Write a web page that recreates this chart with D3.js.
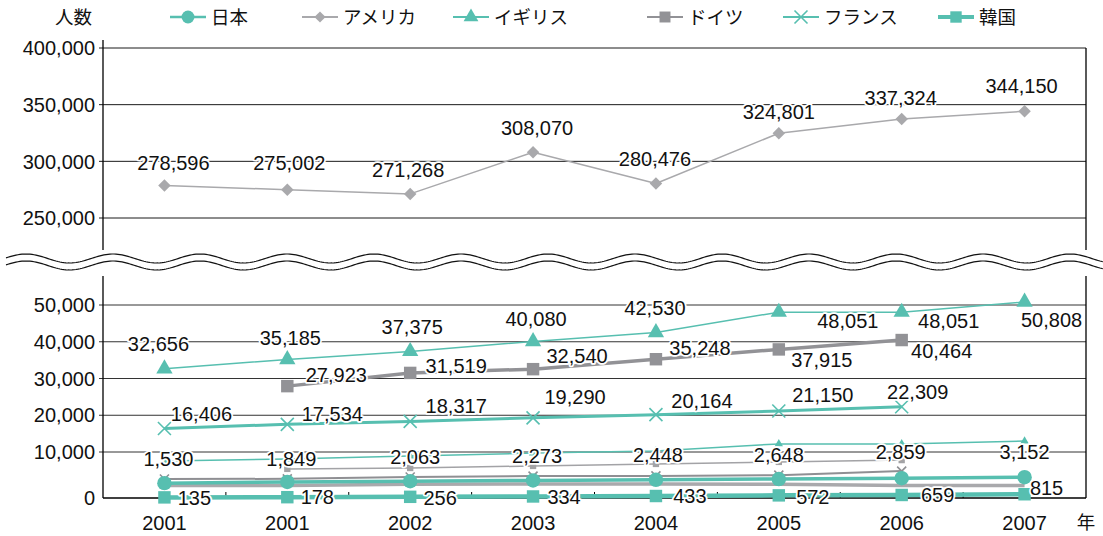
<!DOCTYPE html>
<html><head><meta charset="utf-8">
<script src="https://cdn.jsdelivr.net/npm/d3@7"></script>
<style>
html,body{margin:0;padding:0;background:#fff;}
svg{display:block;font-family:"Liberation Sans","Noto Sans CJK JP",Arial,sans-serif;}
</style></head><body>
<svg id="chart" width="1103" height="536"></svg>
<script>
// ---- data ----
const years = ["2001", "2001", "2002", "2003", "2004", "2005", "2006", "2007"];
const usa = [278596, 275002, 271268, 308070, 280476, 324801, 337324, 344150];
const uk = [32656, 35185, 37375, 40080, 42530, 48051, 48051, 50808];
const germany = [null, 27923, 31519, 32540, 35248, 37915, 40464, null];
const france = [16406, 17534, 18317, 19290, 20164, 21150, 22309, null];
const japan = [1530, 1849, 2063, 2273, 2448, 2648, 2859, 3152];
const korea = [135, 178, 256, 334, 433, 572, 659, 815];
// faint underlying traces in the lower panel
const traceTeal = [7550, 8100, 8900, 9700, 10300, 12200, 12200, 13000];
const traceGraySquare = [null, 5400, 5650, 6200, 6750, 7300, 7800, null];
const traceGrayCross = [2650, 2700, 3200, 3450, 3500, 3700, 4800, null];
const traceGrayThick = [900, 900, 1200, 1300, 1300, 1200, 900, 900];
const topTicks = [250000, 300000, 350000, 400000];
const lowTicks = [0, 10000, 20000, 30000, 40000, 50000];
const legendNames = ["日本", "アメリカ", "イギリス", "ドイツ", "フランス", "韓国"];

// ---- layout ----
const TEAL = "#57bfb0", GRAY_US = "#a9a9ac", GRAY_DE = "#929296";
const left = 103, right = 1086;
const FS = 20;
const svg = d3.select("#chart");
const fmt = d3.format(",");

const x = d3.scaleBand().domain(d3.range(years.length)).range([left, right]);
const cx = i => x(i) + x.bandwidth() / 2;

const yTop = d3.scaleLinear().domain([250000, 400000]).range([218, 48]);
// lower panel: the 0–10,000 band on the axis is drawn taller than the others
const yGrid = d3.scaleLinear().domain([0, 10000, 50000]).range([498, 452, 305]);
const yLow = d3.scaleLinear().domain([10000, 50000]).range([452, 305]);

const g = svg.append("g");

// gridlines
g.selectAll(".gt").data(topTicks).join("line")
  .attr("x1", left - 4).attr("x2", right).attr("y1", d => yTop(d)).attr("y2", d => yTop(d))
  .attr("stroke", "#1a1a1a").attr("stroke-width", 1);
g.selectAll(".gl").data(lowTicks.filter(d => d > 0)).join("line")
  .attr("x1", left - 4).attr("x2", right).attr("y1", d => yGrid(d)).attr("y2", d => yGrid(d))
  .attr("stroke", "#333").attr("stroke-width", 1);

// axes frame
g.append("line").attr("x1", left).attr("x2", left).attr("y1", 40).attr("y2", 250).attr("stroke", "#000").attr("stroke-width", 1.3);
g.append("line").attr("x1", right).attr("x2", right).attr("y1", 48).attr("y2", 250).attr("stroke", "#000").attr("stroke-width", 1.3);
g.append("line").attr("x1", left).attr("x2", left).attr("y1", 276).attr("y2", yGrid(0)).attr("stroke", "#000").attr("stroke-width", 1.3);
g.append("line").attr("x1", right).attr("x2", right).attr("y1", 276).attr("y2", yGrid(0)).attr("stroke", "#000").attr("stroke-width", 1.3);
g.append("line").attr("x1", left).attr("x2", right).attr("y1", yGrid(0)).attr("y2", yGrid(0)).attr("stroke", "#000").attr("stroke-width", 1.5);
// category ticks on the baseline
g.selectAll(".xt").data(d3.range(1, years.length)).join("line")
  .attr("x1", d => x(d)).attr("x2", d => x(d)).attr("y1", yGrid(0) - 6).attr("y2", yGrid(0))
  .attr("stroke", "#000").attr("stroke-width", 1);

// axis labels
const tickStyle = s => s.attr("font-size", FS).attr("fill", "#111");
g.selectAll(".tt").data(topTicks).join("text")
  .attr("x", 95).attr("y", d => yTop(d)).attr("dy", "0.36em").attr("text-anchor", "end")
  .text(fmt).call(tickStyle);
g.selectAll(".tl").data(lowTicks).join("text")
  .attr("x", 95).attr("y", d => yGrid(d)).attr("dy", "0.36em").attr("text-anchor", "end")
  .text(fmt).call(tickStyle);
g.selectAll(".xl").data(years).join("text")
  .attr("x", (d, i) => cx(i)).attr("y", 530).attr("text-anchor", "middle")
  .text(d => d).call(tickStyle);
g.append("text").attr("x", 1086).attr("y", 529).attr("text-anchor", "middle")
  .attr("font-size", 18.5).attr("fill", "#111").text("年");
g.append("text").attr("x", 55).attr("y", 24)
  .attr("font-size", 18.5).attr("fill", "#111").text("人数");

// ---- markers ----
function marker(sel, type, color, size) {
  if (type === "x") {
    const h = size / 2;
    sel.append("path").attr("d", `M${-h},${-h}L${h},${h}M${-h},${h}L${h},${-h}`)
      .attr("stroke", color).attr("stroke-width", 1.6).attr("fill", "none");
    return;
  }
  const sym = { circle: d3.symbolCircle, diamond: d3.symbolSquare, triangle: d3.symbolTriangle, square: d3.symbolSquare }[type];
  const p = sel.append("path").attr("d", d3.symbol(sym, size)()).attr("fill", color);
  if (type === "diamond") p.attr("transform", "rotate(45)");
}

function series(values, scale, opt) {
  const pts = values.map((v, i) => v == null ? null : [cx(i), scale(v)]);
  const line = d3.line().defined(d => d != null);
  g.append("path").attr("d", line(pts)).attr("fill", "none")
    .attr("stroke", opt.color).attr("stroke-width", opt.width).attr("stroke-linejoin", "round");
  if (opt.marker) {
    pts.forEach(p => {
      if (!p) return;
      const m = g.append("g").attr("transform", `translate(${p[0]},${p[1]})`);
      marker(m, opt.marker, opt.mcolor || opt.color, opt.msize);
    });
  }
  return pts;
}

// faint traces first
series(traceGrayThick, yLow, { color: GRAY_US, width: 3.5 });
series(traceGrayCross, yLow, { color: "#8f8f93", width: 2, marker: "x", msize: 9 });
series(traceGraySquare, yLow, { color: "#a3a3a6", width: 1.5, marker: "square", msize: 40 });
series(traceTeal, yLow, { color: TEAL, width: 1.5, marker: "triangle", msize: 30 });

// main series
const pUS = series(usa, yTop, { color: GRAY_US, width: 1.5, marker: "diamond", mcolor: GRAY_US, msize: 78 });
const pUK = series(uk, yLow, { color: TEAL, width: 1.5, marker: "triangle", msize: 115 });
const pDE = series(germany, yLow, { color: GRAY_DE, width: 3.5, marker: "square", msize: 155 });
const pFR = series(france, yLow, { color: TEAL, width: 3, marker: "x", msize: 13 });
const pJP = series(japan, yLow, { color: TEAL, width: 3.5, marker: "circle", msize: 165 });
const pKR = series(korea, yGrid, { color: TEAL, width: 4.5, marker: "square", msize: 155 });

// ---- value labels ----
const labelLayout = {
  usa: { dx: [9, 2, -2, 4, -1, 0, -1, -3], dy: [-23, -27, -24, -24, -25, -21, -21, -25] },
  uk: { dx: [-6, 3, 2, 3, -1, 69, 47, 27], dy: [-25, -22, -25, -23, -25, 9, 9, 18] },
  germany: { dx: [0, 49, 46, 44, 44, 43, 40, 0], dy: [0, -11, -7, -13, -11, 10, 11, 0] },
  france: { dx: [37, 45, 46, 42, 46, 44, 16, 0], dy: [-15, -11, -16, -21, -14, -16, -15, 0] },
  japan: { dx: [4, 4, 5, 4, 2, 0, -1, 0], dy: [-24, -23, -24, -25, -25, -24, -26, -25] },
  korea: { dx: [30, 30, 30, 31, 34, 34, 36, 22], dy: [0, 0, 1, 0, 0, 1, 0, -6] }
};
function labels(values, pts, lay) {
  values.forEach((v, i) => {
    if (v == null) return;
    g.append("text").attr("x", pts[i][0] + lay.dx[i]).attr("y", pts[i][1] + lay.dy[i])
      .attr("dy", "0.36em").attr("text-anchor", "middle").attr("font-size", FS)
      .attr("fill", "#111").attr("stroke", "#fff").attr("stroke-width", 3.5)
      .attr("paint-order", "stroke").attr("stroke-linejoin", "round")
      .text(fmt(v));
  });
}
labels(usa, pUS, labelLayout.usa);
labels(uk, pUK, labelLayout.uk);
labels(germany, pDE, labelLayout.germany);
labels(france, pFR, labelLayout.france);
labels(japan, pJP, labelLayout.japan);
labels(korea, pKR, labelLayout.korea);

// ---- axis break (double wave) ----
const wave = (c) => d3.range(6, 1112, 2).map(px => [px, c - 4.5 * Math.cos(2 * Math.PI * (px - 113) / 87)]);
const upper = wave(258.5), lower = wave(265.5);
g.append("path")
  .attr("d", d3.line()(upper.concat(lower.slice().reverse())) + "Z")
  .attr("fill", "#fff").attr("stroke", "none");
[upper, lower].forEach(w => g.append("path").attr("d", d3.line()(w))
  .attr("fill", "none").attr("stroke", "#111").attr("stroke-width", 1.2));

// ---- legend ----
const legendX = [170, 302, 453, 647, 783, 938];
const legendStyle = [
  { color: TEAL, width: 2.5, marker: "circle", msize: 130 },
  { color: GRAY_US, width: 2, marker: "diamond", msize: 62 },
  { color: TEAL, width: 2, marker: "triangle", msize: 95 },
  { color: GRAY_DE, width: 2, marker: "square", msize: 120 },
  { color: TEAL, width: 2, marker: "x", msize: 13 },
  { color: TEAL, width: 4, marker: "square", msize: 130 }
];
legendNames.forEach((name, i) => {
  const s = legendStyle[i], lx = legendX[i], ly = 17;
  const lg = svg.append("g");
  lg.append("line").attr("x1", lx).attr("x2", lx + 36).attr("y1", ly).attr("y2", ly)
    .attr("stroke", s.color).attr("stroke-width", s.width);
  marker(lg.append("g").attr("transform", `translate(${lx + 18},${ly})`), s.marker, s.color, s.msize);
  lg.append("text").attr("x", lx + 41).attr("y", ly).attr("dy", "0.36em")
    .attr("font-size", 18.5).attr("fill", "#111").text(name);
});
</script>
</body></html>
